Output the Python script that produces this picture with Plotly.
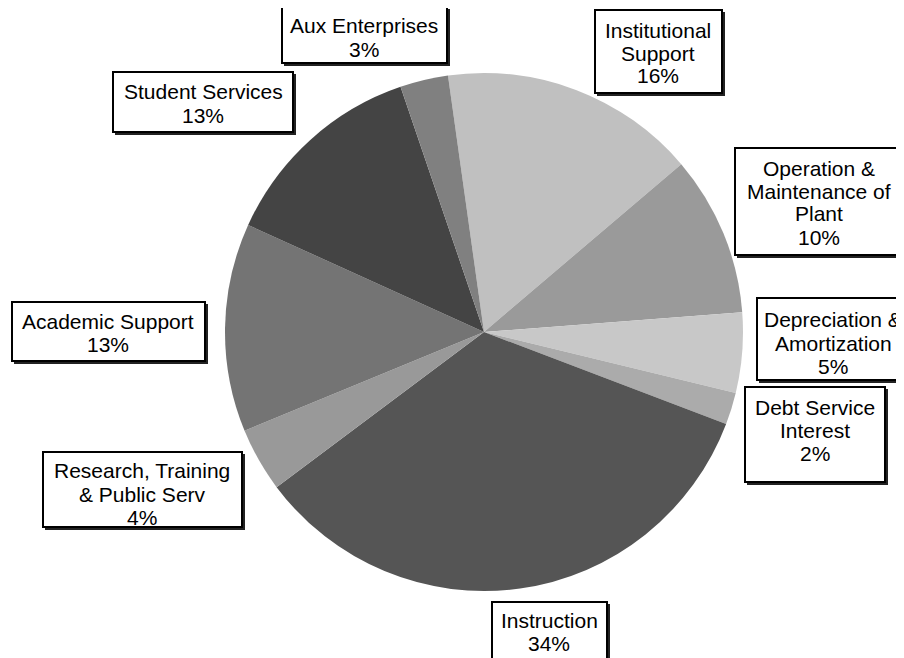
import plotly.graph_objects as go

categories = ["Institutional Support", "Operation & Maintenance of Plant",
              "Depreciation & Amortization", "Debt Service Interest", "Instruction",
              "Research, Training & Public Serv", "Academic Support",
              "Student Services", "Aux Enterprises"]
values = [16, 10, 5, 2, 34, 4, 13, 13, 3]
label_lines = [["Institutional", "Support"], ["Operation &", "Maintenance of", "Plant"],
               ["Depreciation &", "Amortization"], ["Debt Service", "Interest"], ["Instruction"],
               ["Research, Training", "& Public Serv"], ["Academic Support"],
               ["Student Services"], ["Aux Enterprises"]]
colors = ["#c0c0c0", "#9a9a9a", "#c8c8c8", "#ababab", "#555555",
          "#999999", "#747474", "#444444", "#808080"]

# label boxes in page pixels: (x0, x1, y0, y1) from top-left; text centre x; first line y
label_boxes = [(595, 722, 10, 93), (735, 903, 148, 255), (757, 915, 298, 380),
               (745, 885, 387, 482), (492, 607, 602, 665), (43, 242, 452, 527),
               (12, 205, 302, 361), (113, 293, 72, 132), (282, 447, 7, 63)]
text_cx = [658, 819, 833, 815, 549, 142, 108, 203, 364]
first_y = [30, 168, 320, 407, 620, 471, 321, 92, 26]
PITCH = 23

W, H = 904, 658
OFF = 8  # page body margin offset
cx, cy, r = 484 - OFF, 332 - OFF, 259


def px(x):
    return (x - OFF) / W


def py(y):
    return 1 - (y - OFF) / H


fig = go.Figure(go.Pie(
    labels=categories, values=values, sort=False, direction="clockwise",
    rotation=-8, textinfo="none", hoverinfo="label+percent",
    marker=dict(colors=colors, line=dict(width=0)),
    domain=dict(x=[(cx - r) / W, (cx + r) / W], y=[(H - cy - r) / H, (H - cy + r) / H]),
    showlegend=False,
))

font = dict(family="Liberation Sans, Arial, sans-serif", size=21, color="black")
shapes = []
annotations = []
for lines, v, (x0, x1, y0, y1), tx, ty in zip(label_lines, values, label_boxes, text_cx, first_y):
    shapes.append(dict(type="rect", xref="paper", yref="paper",
                       x0=px(x0 + 2), x1=px(x1 + 3), y0=py(y1 + 3), y1=py(y0 + 2),
                       fillcolor="#222222", line=dict(width=0)))
    shapes.append(dict(type="rect", xref="paper", yref="paper",
                       x0=px(x0), x1=px(x1), y0=py(y1), y1=py(y0),
                       fillcolor="white", line=dict(color="black", width=2)))
    for i, line in enumerate(lines + [f"{v}%"]):
        annotations.append(dict(
            text=line, x=px(tx), y=py(ty + i * PITCH), xref="paper", yref="paper",
            showarrow=False, xanchor="center", yanchor="middle", font=font))

fig.update_layout(
    width=W, height=H, margin=dict(l=0, r=0, t=0, b=0),
    paper_bgcolor="white", plot_bgcolor="white",
    shapes=shapes, annotations=annotations,
)

fig.write_html("out.html")
